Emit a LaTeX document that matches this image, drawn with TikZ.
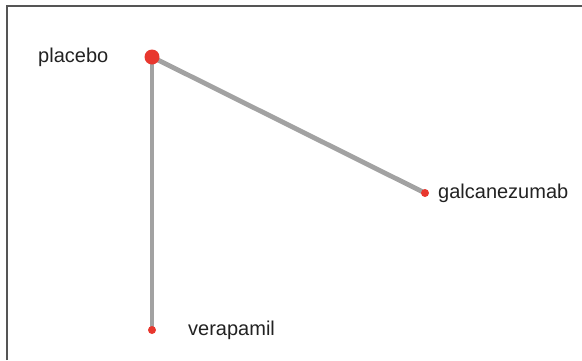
\documentclass[tikz,border=0pt]{standalone}
\usepackage{fontspec}
\setmainfont{Liberation Sans}
\definecolor{dotred}{HTML}{E8372E}
\definecolor{edgegray}{HTML}{A2A2A2}
\definecolor{framegray}{HTML}{555555}
\definecolor{labelink}{HTML}{222222}
\begin{document}
\begin{tikzpicture}[x=1pt,y=-1pt,
  trt/.style={circle,fill=dotred,inner sep=0pt,minimum size=8pt},
  bigtrt/.style={circle,fill=dotred,inner sep=0pt,minimum size=15pt},
  lbl/.style={font=\fontsize{20}{23}\selectfont,text=labelink,inner sep=0pt},
  link/.style={draw=edgegray,line width=4.8pt}]
  \useasboundingbox (0,0) rectangle (582,360);
  % panel frame (left and top edges)
  \draw[framegray,line width=2pt] (6.5,360) -- (6.5,5.5) -- (582,5.5);
  % treatments
  \coordinate (pc) at (152,57);
  \coordinate (gc) at (425,193);
  \coordinate (vc) at (152,330);
  % edges
  \draw[link] (pc) -- (gc);
  \draw[link] (pc) -- (vc);
  \node[bigtrt] (placebo) at (pc) {};
  \node[trt] (galc) at (gc) {};
  \node[trt] (vera) at (vc) {};
  % labels
  \node[lbl,anchor=west] (lp) at (38,57) {placebo};
  \node[lbl,anchor=west] (lg) at (438,193) {galcanezumab};
  \node[lbl,anchor=west] (lv) at (188,330) {verapamil};
\end{tikzpicture}
\end{document}
